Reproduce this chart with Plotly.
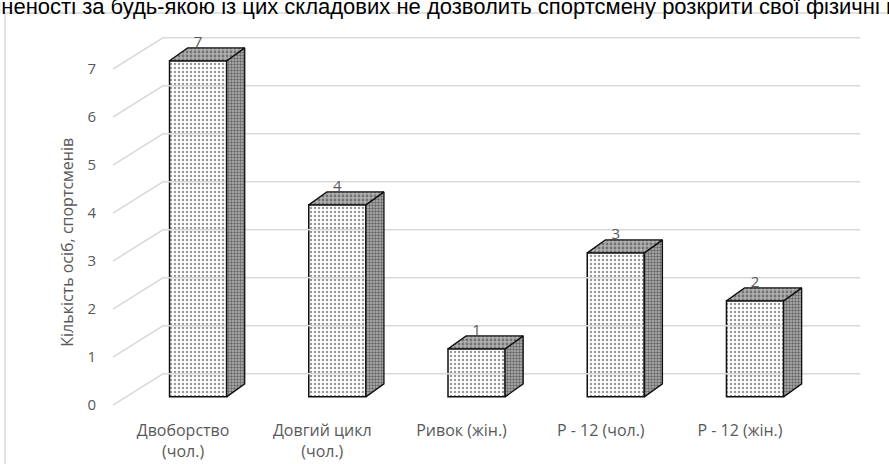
import plotly.graph_objects as go

categories = ["Двоборство<br>(чол.)", "Довгий цикл<br>(чол.)", "Ривок (жін.)", "Р - 12 (чол.)", "Р - 12 (жін.)"]
values = [7, 4, 1, 3, 2]
y_ticks = [0, 1, 2, 3, 4, 5, 6, 7]
y_title = "Кількість осіб, спортсменів"
top_text = "розвиненості за будь-якою із цих складових не дозволить спортсмену розкрити свої фізичні можливості"

# pseudo-3D styling constants (in axis units)
SHIFT = 0.108    # bars sit slightly right of the category label (perspective)
BASE = 0.17      # front face starts slightly above floor front edge
W = 0.41         # front face width
DX = 0.13        # depth offset x
DY = 0.27        # depth offset y
WALL_DY = 0.65   # back-wall offset for gridlines
X_MIN, X_BACK, X_MAX = -0.503, -0.144, 4.862
Y_MIN, Y_MAX = -0.208, 7.8125

xpos = list(range(len(categories)))
bx = [x + SHIFT for x in xpos]
fig = go.Figure()

# back wall gridlines (diagonal + horizontal)
gx, gy = [], []
for t in y_ticks:
    gx += [X_MIN, X_BACK, X_MAX, None]
    gy += [t, t + WALL_DY, t + WALL_DY, None]
fig.add_trace(go.Scatter(x=gx, y=gy, mode="lines", line=dict(color="#d9d9d9", width=1.5),
                         hoverinfo="skip", showlegend=False))

# side faces
sx, sy = [], []
for x, v in zip(bx, values):
    r = x + W / 2
    sx += [r, r + DX, r + DX, r, r, None]
    sy += [BASE, BASE + DY, BASE + v + DY, BASE + v, BASE, None]
fig.add_trace(go.Scatter(x=sx, y=sy, mode="lines", fill="toself",
                         fillcolor="#a9a9a9",
                         fillpattern=dict(shape=".", fgcolor="#1a1a1a", bgcolor="#b3b3b3", size=3, solidity=0.5),
                         line=dict(color="#111111", width=1.3), hoverinfo="skip", showlegend=False))

# top faces
tx, ty = [], []
for x, v in zip(bx, values):
    l, r = x - W / 2, x + W / 2
    top = BASE + v
    tx += [l, l + DX, r + DX, r, l, None]
    ty += [top, top + DY, top + DY, top, top, None]
fig.add_trace(go.Scatter(x=tx, y=ty, mode="lines", fill="toself",
                         fillcolor="#a8a8a8",
                         fillpattern=dict(shape=".", fgcolor="#333333", bgcolor="#b0b0b0", size=4, solidity=0.4),
                         line=dict(color="#111111", width=1.3), hoverinfo="skip", showlegend=False))

# front faces
fig.add_trace(go.Bar(x=bx, y=values, base=BASE, width=W,
                     marker=dict(color="white",
                                 pattern=dict(shape=".", fgcolor="#333333", bgcolor="white", size=4, solidity=0.3),
                                 line=dict(color="#111111", width=1.5)),
                     hoverinfo="skip", showlegend=False))

# value labels
fig.add_trace(go.Scatter(x=bx, y=[BASE + v + DY + 0.09 for v in values],
                         mode="text", text=[str(v) for v in values], textposition="middle center",
                         textfont=dict(family="Open Sans", size=15, color="#595959"),
                         hoverinfo="skip", showlegend=False))

fig.update_layout(
    width=889, height=464,
    margin=dict(l=113, r=29, t=30, b=49),
    paper_bgcolor="white", plot_bgcolor="white",
    barmode="overlay",
    font=dict(family="Open Sans", color="#595959", size=15),
    xaxis=dict(range=[X_MIN, X_MAX], tickvals=xpos, ticktext=categories, automargin=False,
               showgrid=False, zeroline=False, showline=False,
               ticks="outside", ticklen=1, tickcolor="rgba(0,0,0,0)",
               tickfont=dict(family="Open Sans", size=16, color="#595959")),
    yaxis=dict(range=[Y_MIN, Y_MAX], tickvals=y_ticks, automargin=False,
               showgrid=False, zeroline=False, showline=False,
               ticks="outside", ticklen=13, tickcolor="rgba(0,0,0,0)",
               tickfont=dict(family="Open Sans", size=15, color="#595959")),
    shapes=[dict(type="rect", xref="paper", yref="paper",
                 x0=-0.1446, x1=1.2, y0=-0.3, y1=1.044,
                 line=dict(color="#d9d9d9", width=1.5), fillcolor="rgba(0,0,0,0)", layer="below")],
    annotations=[
        dict(text=top_text, xref="paper", yref="paper", x=-0.230, y=1.062,
             xanchor="left", yanchor="middle", showarrow=False,
             font=dict(family="Liberation Sans Narrow, Liberation Sans, Arial", size=22, color="black")),
        dict(text=y_title, xref="paper", yref="paper", x=-0.0616, y=0.45, textangle=-90,
             xanchor="center", yanchor="middle", showarrow=False,
             font=dict(family="Open Sans", size=16, color="#595959")),
    ],
)

fig.write_html("out.html", config={"displayModeBar": False},
               post_script="document.body.style.margin='0';document.body.style.overflow='hidden';")
